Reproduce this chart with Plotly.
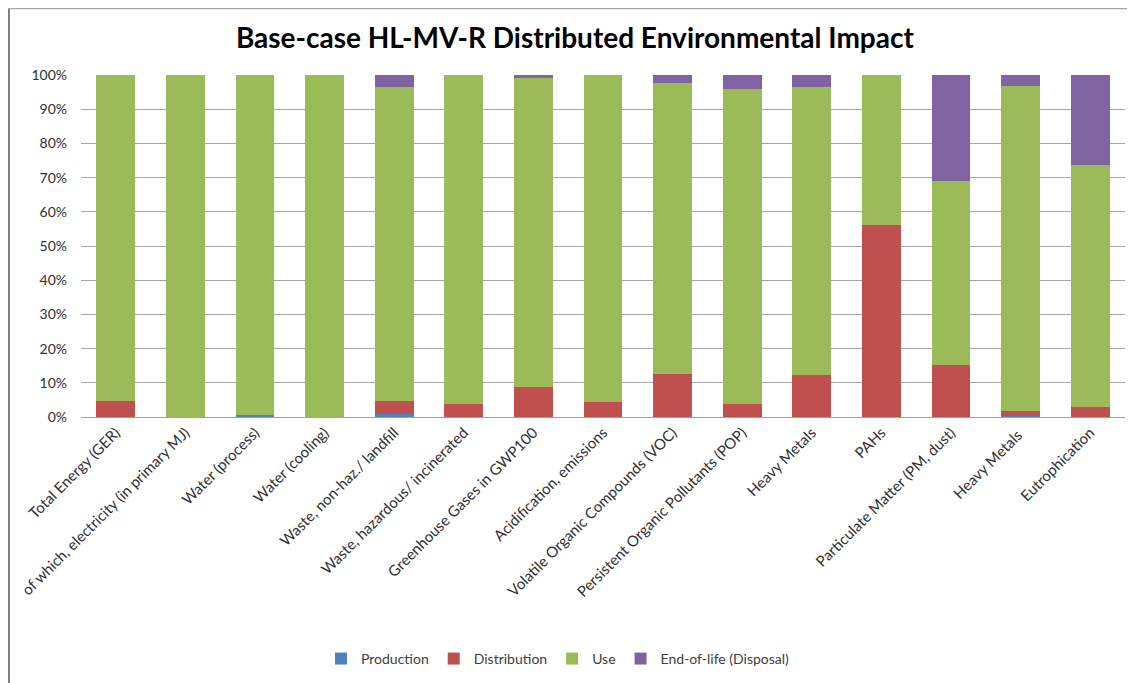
import plotly.graph_objects as go

categories = [
    "Total Energy (GER)",
    "of which, electricity (in primary MJ)",
    "Water (process)",
    "Water (cooling)",
    "Waste, non-haz./ landfill",
    "Waste, hazardous/ incinerated",
    "Greenhouse Gases in GWP100",
    "Acidification, emissions",
    "Volatile Organic Compounds (VOC)",
    "Persistent Organic Pollutants (POP)",
    "Heavy Metals",
    "PAHs",
    "Particulate Matter (PM, dust)",
    "Heavy Metals ",
    "Eutrophication",
]

production = [0.0, 0.0, 0.5, 0.0, 1.0, 0.0, 0.0, 0.0, 0.0, 0.0, 0.0, 0.0, 0.0, 0.4, 0.0]
distribution = [4.7, 0.0, 0.0, 0.0, 3.7, 3.9, 8.8, 4.3, 12.5, 3.9, 12.2, 56.1, 15.3, 1.3, 2.8]
use = [95.3, 100.0, 99.5, 100.0, 91.7, 96.1, 90.2, 95.7, 85.1, 91.9, 84.2, 43.9, 53.8, 95.2, 70.8]
end_of_life = [0.0, 0.0, 0.0, 0.0, 3.6, 0.0, 1.0, 0.0, 2.4, 4.2, 3.6, 0.0, 30.9, 3.1, 26.4]

series = [
    ("Production", production, "#4F81BD"),
    ("Distribution", distribution, "#C0504D"),
    ("Use", use, "#9BBB59"),
    ("End-of-life (Disposal)", end_of_life, "#8064A2"),
]

fig = go.Figure()
for name, vals, color in series:
    fig.add_trace(
        go.Bar(
            x=categories,
            y=vals,
            name=name,
            marker={"color": color, "line": {"width": 0}},
        )
    )

# page body has an 8px margin, so the figure is a bit smaller than the window
fig.update_layout(
    barmode="stack",
    bargap=0.44,
    width=1127,
    height=675,
    paper_bgcolor="white",
    plot_bgcolor="white",
    font={"family": "Lato, 'Open Sans', sans-serif", "size": 13, "color": "#404040"},
    title={
        "text": "<b>Base-case HL-MV-R Distributed Environmental Impact</b>",
        "x": 0.503,
        "xanchor": "center",
        "y": 0.956,
        "yanchor": "middle",
        "font": {"family": "Lato, sans-serif", "size": 28, "color": "black"},
    },
    margin={"l": 73, "r": 10, "t": 67, "b": 266},
    showlegend=True,
    legend={
        "orientation": "h",
        "xref": "container",
        "yref": "container",
        "x": 0.488,
        "xanchor": "center",
        "y": 0.0356,
        "yanchor": "middle",
        "font": {"size": 14, "color": "#404040"},
        "traceorder": "normal",
        "itemwidth": 30,
    },
    xaxis={
        "tickangle": -45,
        "showline": True,
        "linecolor": "#A0A0A0",
        "linewidth": 1,
        "ticks": "",
        "automargin": False,
        "tickfont": {"size": 15, "color": "#303030"},
    },
    yaxis={
        "range": [0, 100],
        "dtick": 10,
        "ticksuffix": "%",
        "showgrid": True,
        "gridcolor": "#A6A6A6",
        "gridwidth": 1,
        "zeroline": False,
        "automargin": False,
        "ticklabelstandoff": 13,
        "tickfont": {"size": 14, "color": "#303030"},
    },
    shapes=[
        {
            "type": "line",
            "xref": "paper",
            "yref": "paper",
            "x0": -0.069,
            "x1": -0.069,
            "y0": -0.78,
            "y1": 1.195,
            "line": {"color": "#7F7F7F", "width": 2},
        },
        {
            "type": "line",
            "xref": "paper",
            "yref": "paper",
            "x0": -0.069,
            "x1": 1.01,
            "y0": 1.1944,
            "y1": 1.1944,
            "line": {"color": "#A6A6A6", "width": 1.5},
        },
    ],
)

fig.write_html("out.html")
